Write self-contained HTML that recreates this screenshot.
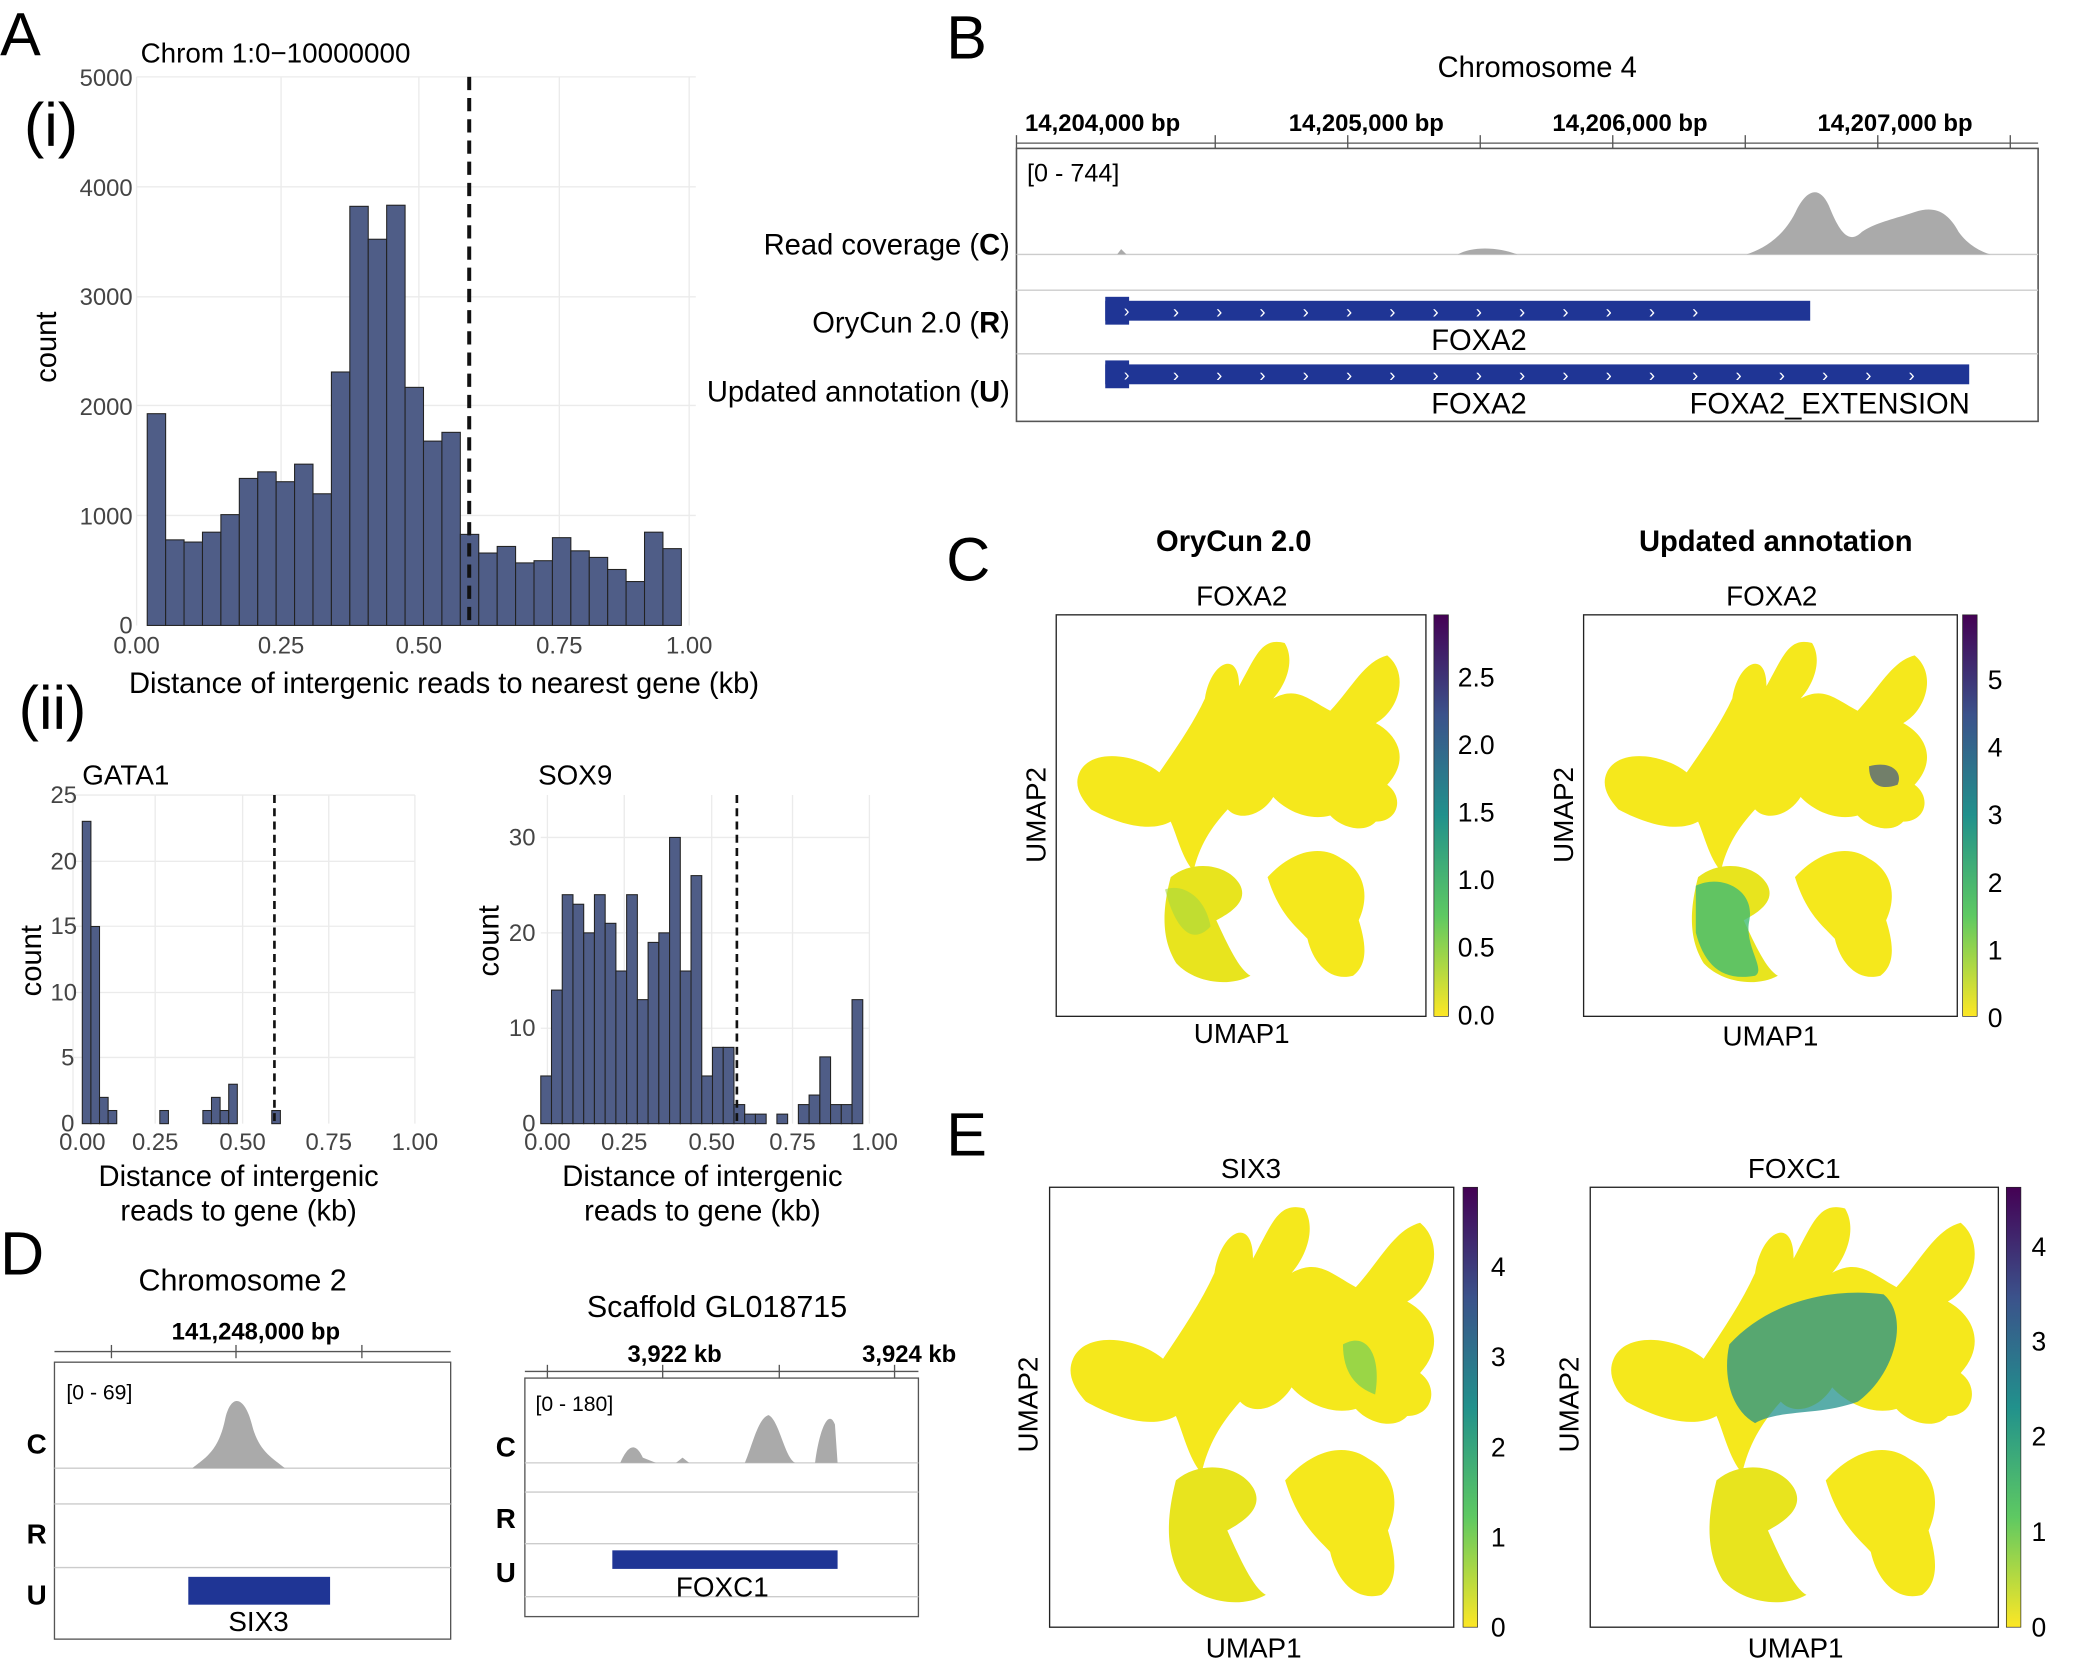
<!DOCTYPE html>
<html><head><meta charset="utf-8"><style>body{margin:0;background:#fff}svg{display:block}text{font-family:"Liberation Sans",sans-serif}</style></head>
<body>
<svg width="2078" height="1659" viewBox="0 0 1568 1252" xmlns="http://www.w3.org/2000/svg">
<defs>
<linearGradient id="vir" x1="0" y1="1" x2="0" y2="0">
<stop offset="0" stop-color="#fde725"/><stop offset="0.25" stop-color="#5ec962"/><stop offset="0.5" stop-color="#21918c"/><stop offset="0.75" stop-color="#3b528b"/><stop offset="1" stop-color="#440154"/></linearGradient>
<g id="umap">
<path d="M10,130 C20,110 60,115 80,130 C95,110 110,90 120,70 C125,40 150,30 150,60 C165,35 170,20 190,25 C200,40 190,60 180,70 C200,60 210,70 230,80 C250,60 260,40 280,35 C300,50 290,80 270,90 C290,100 300,120 280,140 C295,150 290,170 270,170 C260,180 240,175 230,165 C210,170 190,160 180,150 C170,165 150,170 140,160 C125,175 115,190 110,210 C100,200 95,180 90,170 C70,180 40,170 20,160 C10,150 5,140 10,130Z" fill="#f5e81c"/>
<path d="M90,215 C110,200 140,205 150,220 C160,235 140,245 130,250 C140,270 150,290 160,295 C140,305 110,300 95,285 C85,270 80,250 90,215Z" fill="#e8e41e"/>
<path d="M175,215 C200,190 225,190 240,200 C260,210 265,230 255,250 C260,265 265,285 250,295 C230,300 215,285 210,265 C200,255 185,245 175,215Z" fill="#f5e81c"/>
</g>
</defs>
<rect width="1568" height="1252" fill="#fff"/>
<!-- Panel A -->
<text x="0" y="42" font-size="46">A</text>
<text x="18" y="110" font-size="46">(i)</text>
<text x="106" y="47" font-size="21">Chrom 1:0−10000000</text>
<g stroke="#ebebeb" stroke-width="1">
<line x1="103" y1="58" x2="103" y2="472"/><line x1="212" y1="58" x2="212" y2="472"/><line x1="316" y1="58" x2="316" y2="472"/><line x1="422" y1="58" x2="422" y2="472"/><line x1="520" y1="58" x2="520" y2="472"/>
<line x1="103" y1="389" x2="525" y2="389"/><line x1="103" y1="306" x2="525" y2="306"/><line x1="103" y1="224" x2="525" y2="224"/><line x1="103" y1="141" x2="525" y2="141"/><line x1="103" y1="58" x2="525" y2="58"/>
</g>
<g fill="#4f5d87" stroke="#222" stroke-width="0.8" id="ha"></g>
<line x1="354" y1="58" x2="354" y2="472" stroke="#111" stroke-width="3" stroke-dasharray="10,6"/>
<g font-size="18" fill="#444" text-anchor="end">
<text x="100" y="478">0</text><text x="100" y="396">1000</text><text x="100" y="313">2000</text><text x="100" y="230">3000</text><text x="100" y="148">4000</text><text x="100" y="65">5000</text></g>
<g font-size="18" fill="#444" text-anchor="middle">
<text x="103" y="493">0.00</text><text x="212" y="493">0.25</text><text x="316" y="493">0.50</text><text x="422" y="493">0.75</text><text x="520" y="493">1.00</text></g>
<text x="335" y="523" font-size="22" text-anchor="middle">Distance of intergenic reads to nearest gene (kb)</text>
<text transform="translate(42,262) rotate(-90)" font-size="22" text-anchor="middle">count</text>
<text x="14" y="550" font-size="46">(ii)</text>
<!-- GATA1 -->
<text x="62" y="592" font-size="21">GATA1</text>
<g stroke="#ebebeb"><line x1="55" y1="600" x2="55" y2="848"/><line x1="117" y1="600" x2="117" y2="848"/><line x1="183" y1="600" x2="183" y2="848"/><line x1="248" y1="600" x2="248" y2="848"/><line x1="313" y1="600" x2="313" y2="848"/>
<line x1="55" y1="798" x2="313" y2="798"/><line x1="55" y1="749" x2="313" y2="749"/><line x1="55" y1="699" x2="313" y2="699"/><line x1="55" y1="650" x2="313" y2="650"/><line x1="55" y1="600" x2="313" y2="600"/></g>
<g fill="#4f5d87" stroke="#222" stroke-width="0.8" id="hg"></g>
<line x1="207" y1="600" x2="207" y2="848" stroke="#111" stroke-width="2" stroke-dasharray="6,4"/>
<g font-size="18" fill="#444" text-anchor="end"><text x="56" y="854">0</text><text x="56" y="804">5</text><text x="58" y="755">10</text><text x="58" y="705">15</text><text x="58" y="656">20</text><text x="58" y="606">25</text></g>
<g font-size="18" fill="#444" text-anchor="middle"><text x="62" y="868">0.00</text><text x="117" y="868">0.25</text><text x="183" y="868">0.50</text><text x="248" y="868">0.75</text><text x="313" y="868">1.00</text></g>
<text x="180" y="895" font-size="22" text-anchor="middle">Distance of intergenic</text>
<text x="180" y="921" font-size="22" text-anchor="middle">reads to gene (kb)</text>
<text transform="translate(31,725) rotate(-90)" font-size="22" text-anchor="middle">count</text>
<!-- SOX9 -->
<text x="406" y="592" font-size="21">SOX9</text>
<g stroke="#ebebeb"><line x1="413" y1="600" x2="413" y2="848"/><line x1="471" y1="600" x2="471" y2="848"/><line x1="537" y1="600" x2="537" y2="848"/><line x1="598" y1="600" x2="598" y2="848"/><line x1="656" y1="600" x2="656" y2="848"/>
<line x1="408" y1="776" x2="656" y2="776"/><line x1="408" y1="704" x2="656" y2="704"/><line x1="408" y1="632" x2="656" y2="632"/></g>
<g fill="#4f5d87" stroke="#222" stroke-width="0.8" id="hs"></g>
<line x1="556" y1="600" x2="556" y2="848" stroke="#111" stroke-width="2" stroke-dasharray="6,4"/>
<g font-size="18" fill="#444" text-anchor="end"><text x="404" y="854">0</text><text x="404" y="782">10</text><text x="404" y="710">20</text><text x="404" y="638">30</text></g>
<g font-size="18" fill="#444" text-anchor="middle"><text x="413" y="868">0.00</text><text x="471" y="868">0.25</text><text x="537" y="868">0.50</text><text x="598" y="868">0.75</text><text x="660" y="868">1.00</text></g>
<text x="530" y="895" font-size="22" text-anchor="middle">Distance of intergenic</text>
<text x="530" y="921" font-size="22" text-anchor="middle">reads to gene (kb)</text>
<text transform="translate(376,710) rotate(-90)" font-size="22" text-anchor="middle">count</text>
<!-- Panel B -->
<text x="714" y="44" font-size="46">B</text>
<text x="1160" y="58" font-size="22" text-anchor="middle">Chromosome 4</text>
<g font-size="18" font-weight="bold" text-anchor="middle"><text x="832" y="99">14,204,000 bp</text><text x="1031" y="99">14,205,000 bp</text><text x="1230" y="99">14,206,000 bp</text><text x="1430" y="99">14,207,000 bp</text></g>
<g stroke="#555"><line x1="767" y1="108" x2="1538" y2="108"/><line x1="767" y1="102" x2="767" y2="112"/><line x1="917" y1="102" x2="917" y2="112"/><line x1="1017" y1="102" x2="1017" y2="112"/><line x1="1117" y1="102" x2="1117" y2="112"/><line x1="1217" y1="102" x2="1217" y2="112"/><line x1="1317" y1="102" x2="1317" y2="112"/><line x1="1417" y1="102" x2="1417" y2="112"/><line x1="1517" y1="102" x2="1517" y2="112"/></g>
<rect x="767" y="112" width="771" height="206" fill="none" stroke="#555" stroke-width="1.2"/>
<text x="775" y="137" font-size="19">[0 - 744]</text>
<g stroke="#ccc"><line x1="767" y1="192" x2="1538" y2="192"/><line x1="767" y1="219" x2="1538" y2="219"/><line x1="767" y1="267" x2="1538" y2="267"/></g>
<path d="M1318,192 C1330,188 1345,180 1355,160 C1362,145 1372,138 1380,155 C1388,175 1395,185 1405,175 C1415,168 1430,165 1445,160 C1460,155 1470,160 1478,175 C1485,185 1495,190 1502,192Z M1100,192 C1110,186 1130,186 1145,192Z M843,192 L846,188 L850,192Z" fill="#aaa"/>
<g font-size="22" text-anchor="end"><text x="762" y="192">Read coverage (<tspan font-weight="bold">C</tspan>)</text><text x="762" y="251">OryCun 2.0 (<tspan font-weight="bold">R</tspan>)</text><text x="762" y="303">Updated annotation (<tspan font-weight="bold">U</tspan>)</text></g>
<rect x="834" y="227" width="532" height="15" fill="#1f3595"/><rect x="834" y="224" width="18" height="21" fill="#1f3595"/>
<rect x="834" y="275" width="652" height="15" fill="#1f3595"/><rect x="834" y="272" width="18" height="21" fill="#1f3595"/>
<g fill="#fff" font-size="13"><text x="848" y="239">›</text><text x="848" y="287">›</text></g>
<text font-size="14" fill="#fff" x="885" y="240" letter-spacing="28">›››››››››››››</text>
<text font-size="14" fill="#fff" x="885" y="288" letter-spacing="28">››››››››››››››››››</text>
<g font-size="22"><text x="1080" y="264">FOXA2</text><text x="1080" y="312">FOXA2</text><text x="1275" y="312">FOXA2_EXTENSION</text></g>
<!-- Panel C -->
<text x="714" y="438" font-size="46">C</text>
<g font-size="22" font-weight="bold" text-anchor="middle"><text x="931" y="416">OryCun 2.0</text><text x="1340" y="416">Updated annotation</text></g>
<g font-size="21" text-anchor="middle"><text x="937" y="457">FOXA2</text><text x="1337" y="457">FOXA2</text><text x="937" y="787">UMAP1</text><text x="1336" y="789">UMAP1</text></g>
<text transform="translate(789,615) rotate(-90)" font-size="21" text-anchor="middle">UMAP2</text>
<text transform="translate(1187,615) rotate(-90)" font-size="21" text-anchor="middle">UMAP2</text>
<rect x="797" y="464" width="279" height="303" fill="#fff" stroke="#222"/>
<g transform="translate(806,462) scale(0.86,0.93)"><use href="#umap"/><path d="M85,225 C100,220 120,230 125,255 C110,270 95,260 85,225Z" fill="#a6d93e" opacity="0.6"/></g>
<rect x="1195" y="464" width="282" height="303" fill="#fff" stroke="#222"/>
<g transform="translate(1204,462) scale(0.86,0.93)"><use href="#umap"/><path d="M88,222 C110,212 140,225 135,250 C130,270 150,290 140,295 C110,300 95,285 88,260Z" fill="#3fbc73" opacity="0.8"/><path d="M240,125 C260,120 270,130 265,140 C250,145 240,140 240,125Z" fill="#3b528b" opacity="0.7"/></g>
<rect x="1082" y="464" width="11" height="303" fill="url(#vir)" stroke="#222" stroke-width="0.5"/>
<rect x="1481" y="464" width="11" height="303" fill="url(#vir)" stroke="#222" stroke-width="0.5"/>
<g font-size="20"><text x="1100" y="518">2.5</text><text x="1100" y="569">2.0</text><text x="1100" y="620">1.5</text><text x="1100" y="671">1.0</text><text x="1100" y="722">0.5</text><text x="1100" y="773">0.0</text>
<text x="1500" y="520">5</text><text x="1500" y="571">4</text><text x="1500" y="622">3</text><text x="1500" y="673">2</text><text x="1500" y="724">1</text><text x="1500" y="775">0</text></g>
<!-- Panel E -->
<text x="714" y="872" font-size="46">E</text>
<g font-size="21" text-anchor="middle"><text x="944" y="889">SIX3</text><text x="1354" y="889">FOXC1</text><text x="946" y="1251">UMAP1</text><text x="1355" y="1251">UMAP1</text></g>
<text transform="translate(783,1060) rotate(-90)" font-size="21" text-anchor="middle">UMAP2</text>
<text transform="translate(1191,1060) rotate(-90)" font-size="21" text-anchor="middle">UMAP2</text>
<rect x="792" y="896" width="305" height="332" fill="#fff" stroke="#222"/>
<g transform="translate(800,885) scale(0.97,1.08)"><use href="#umap"/><path d="M220,120 C240,110 250,130 245,155 C230,150 220,140 220,120Z" fill="#5ec962" opacity="0.6"/></g>
<rect x="1200" y="896" width="308" height="332" fill="#fff" stroke="#222"/>
<g transform="translate(1208,885) scale(0.97,1.08)"><use href="#umap"/><path d="M100,120 C130,90 180,80 220,85 C240,100 230,140 200,160 C170,170 140,165 120,175 C100,165 95,140 100,120Z" fill="#21918c" opacity="0.75"/></g>
<rect x="1104" y="896" width="11" height="332" fill="url(#vir)" stroke="#222" stroke-width="0.5"/>
<rect x="1514" y="896" width="11" height="332" fill="url(#vir)" stroke="#222" stroke-width="0.5"/>
<g font-size="20"><text x="1125" y="963">4</text><text x="1125" y="1031">3</text><text x="1125" y="1099">2</text><text x="1125" y="1167">1</text><text x="1125" y="1235">0</text>
<text x="1533" y="948">4</text><text x="1533" y="1019">3</text><text x="1533" y="1091">2</text><text x="1533" y="1163">1</text><text x="1533" y="1235">0</text></g>
<!-- Panel D -->
<text x="0" y="962" font-size="46">D</text>
<text x="183" y="974" font-size="23" text-anchor="middle">Chromosome 2</text>
<text x="193" y="1011" font-size="18" font-weight="bold" text-anchor="middle">141,248,000 bp</text>
<g stroke="#555"><line x1="41" y1="1020" x2="340" y2="1020"/><line x1="84" y1="1015" x2="84" y2="1025"/><line x1="178" y1="1015" x2="178" y2="1025"/><line x1="273" y1="1015" x2="273" y2="1025"/></g>
<rect x="41" y="1028" width="299" height="209" fill="none" stroke="#555"/>
<text x="50" y="1056" font-size="16">[0 - 69]</text>
<g stroke="#ccc"><line x1="41" y1="1108" x2="340" y2="1108"/><line x1="41" y1="1135" x2="340" y2="1135"/><line x1="41" y1="1183" x2="340" y2="1183"/></g>
<path d="M145,1108 C155,1100 165,1095 170,1070 C175,1050 185,1055 190,1075 C195,1095 205,1100 215,1108Z" fill="#aaa"/>
<rect x="142" y="1190" width="107" height="21" fill="#1f3595"/>
<g font-size="21" font-weight="bold"><text x="20" y="1097">C</text><text x="20" y="1165">R</text><text x="20" y="1211">U</text></g>
<text x="195" y="1231" font-size="21" text-anchor="middle">SIX3</text>
<text x="541" y="994" font-size="23" text-anchor="middle">Scaffold GL018715</text>
<g font-size="18" font-weight="bold" text-anchor="middle"><text x="509" y="1028">3,922 kb</text><text x="686" y="1028">3,924 kb</text></g>
<g stroke="#555"><line x1="396" y1="1035" x2="693" y2="1035"/><line x1="413" y1="1030" x2="413" y2="1040"/><line x1="500" y1="1030" x2="500" y2="1040"/><line x1="588" y1="1030" x2="588" y2="1040"/><line x1="675" y1="1030" x2="675" y2="1040"/></g>
<rect x="396" y="1040" width="297" height="180" fill="none" stroke="#555"/>
<text x="404" y="1065" font-size="16">[0 - 180]</text>
<g stroke="#ccc"><line x1="396" y1="1104" x2="693" y2="1104"/><line x1="396" y1="1126" x2="693" y2="1126"/><line x1="396" y1="1165" x2="693" y2="1165"/><line x1="396" y1="1205" x2="693" y2="1205"/></g>
<path d="M468,1104 C472,1095 478,1085 485,1100 L495,1104Z M562,1104 C568,1090 572,1070 580,1068 C588,1072 592,1100 600,1104Z M615,1104 C618,1080 625,1062 630,1075 L632,1104Z M510,1104 L515,1100 L520,1104Z" fill="#aaa"/>
<rect x="462" y="1170" width="170" height="14" fill="#1f3595"/>
<g font-size="21" font-weight="bold"><text x="374" y="1099">C</text><text x="374" y="1153">R</text><text x="374" y="1194">U</text></g>
<text x="545" y="1205" font-size="21" text-anchor="middle">FOXC1</text>
<script>
var ns='http://www.w3.org/2000/svg';
function bars2(id,vals,x0,w,y0,s){var g=document.getElementById(id);vals.forEach(function(v,i){if(v>0){var r=document.createElementNS(ns,'rect');r.setAttribute('x',x0+i*w);r.setAttribute('y',y0-v*s);r.setAttribute('width',w);r.setAttribute('height',v*s);g.appendChild(r);}});}
bars2('ha',[1930,780,760,850,1010,1340,1400,1310,1470,1200,2310,3820,3520,3830,2170,1680,1760,830,660,720,570,590,800,680,620,510,400,850,700],111,13.9,472,0.0828);
bars2('hg',[23,15,2,1,0,0,0,0,0,1,0,0,0,0,1,2,1,3,0,0,0,0,1],62,6.5,848,9.92);
bars2('hs',[5,14,24,23,20,24,21,16,24,13,19,20,30,16,26,5,8,8,2,1,1,0,1,0,2,3,7,2,2,13],408,8.1,848,7.2);
</script>
</svg>
</body></html>
